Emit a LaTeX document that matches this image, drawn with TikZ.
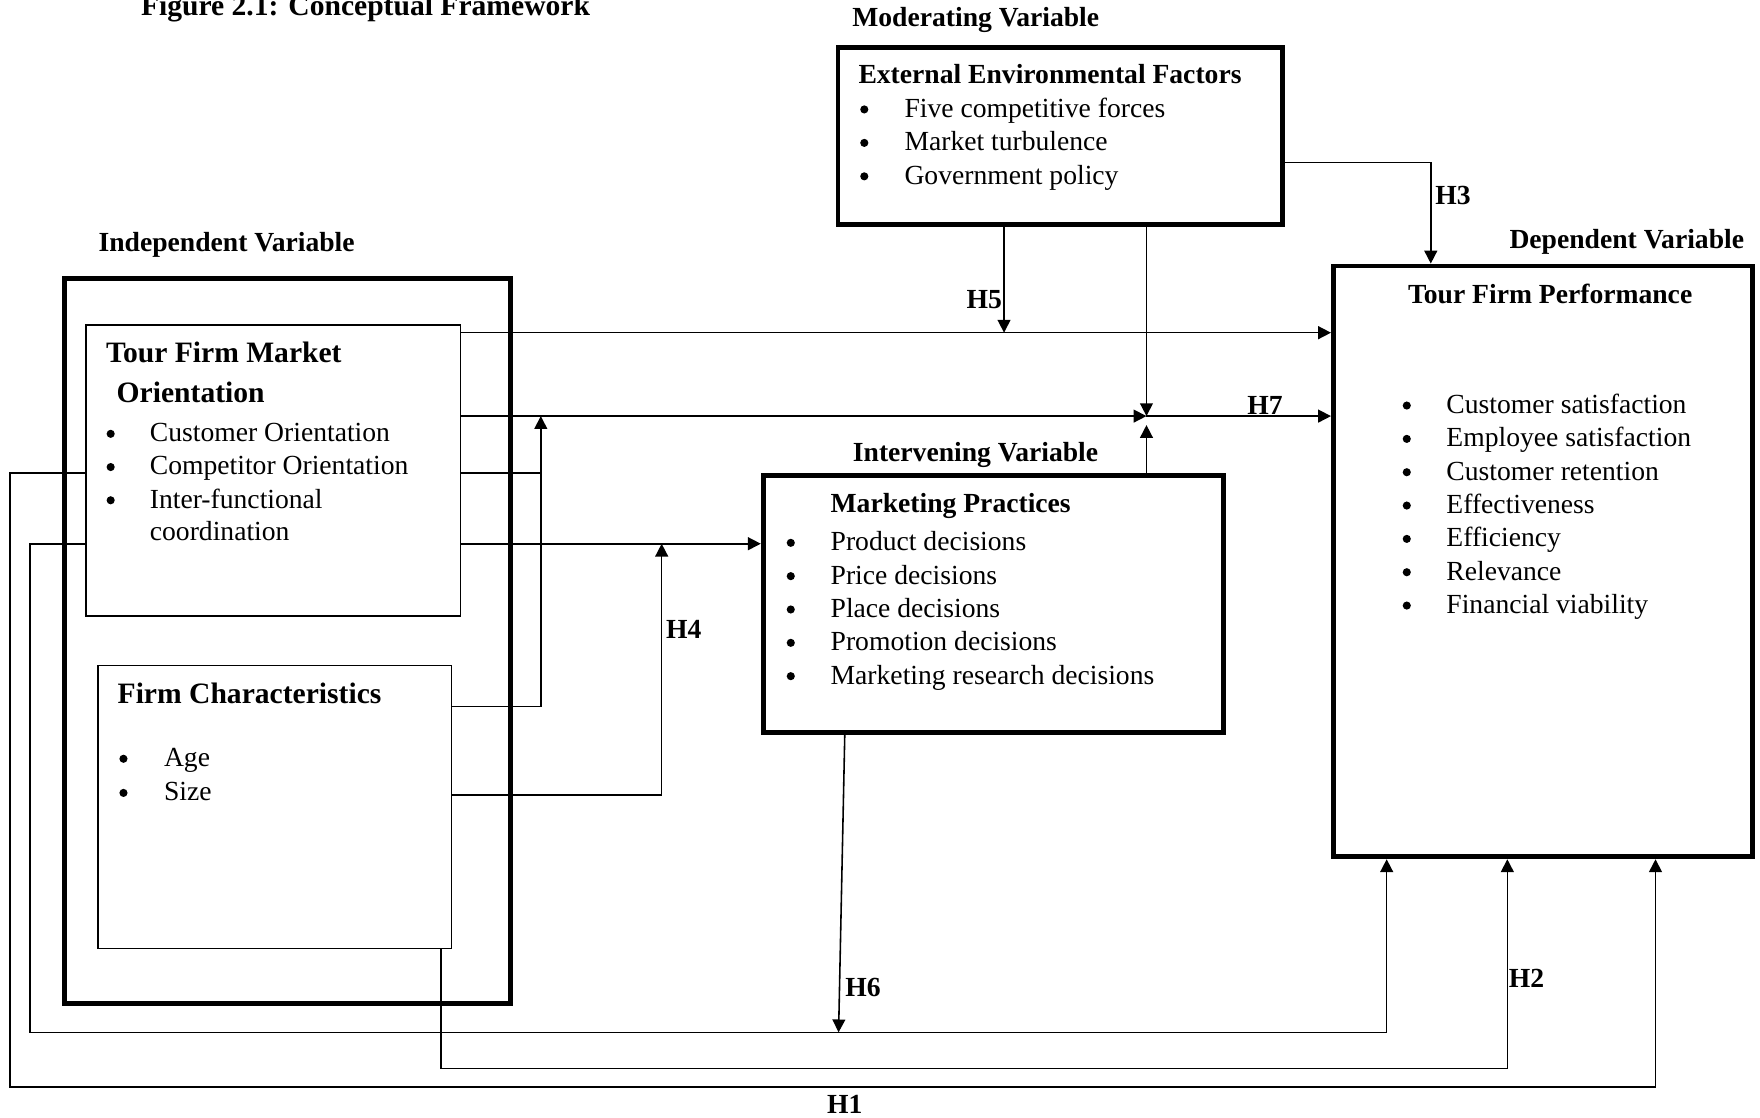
\documentclass[tikz,border=0pt]{standalone}
\usepackage{fontspec}
\setmainfont{Liberation Serif}
\usepackage{tikz}
\usetikzlibrary{positioning}
\usetikzlibrary{arrows.meta,fit,calc}
\tikzstyle{thickbox}=[draw,line width=2.5pt,inner sep=0pt]
\tikzstyle{thinbox}=[draw,line width=0.7pt,inner sep=0pt]
\tikzstyle{plainline}=[draw,line width=0.8pt]
\tikzstyle{edge}=[draw,line width=0.8pt,-{Triangle[length=6.5pt,width=6.5pt]}]
\tikzstyle{heading}=[font=\fontsize{14}{17}\selectfont\bfseries,anchor=base west,inner sep=0pt]
\tikzstyle{bigheading}=[font=\fontsize{15}{18}\selectfont\bfseries,anchor=base west,inner sep=0pt]
\tikzstyle{itemtext}=[font=\fontsize{14}{17}\selectfont,anchor=base west,inner sep=0pt]
\tikzstyle{dot}=[circle,fill=black,minimum size=1.45mm,inner sep=0pt]
\tikzstyle{hyp}=[font=\fontsize{14}{17}\selectfont\bfseries,anchor=base west,inner sep=0pt]

\begin{document}
\begin{tikzpicture}[x=0.2mm,y=-0.2mm]
 \useasboundingbox (0,0) rectangle (1568,996);

 %titles
 \node[bigheading] (title) at (125.3,13.4) {Figure 2.1: Conceptual Framework};
 \node[heading] (modlab) at (759,23.8) {Moderating Variable};
 \node[heading] (indlab) at (87.5,224.2) {Independent Variable};
 \node[heading] (intlab) at (759.5,411.3) {Intervening Variable};
 \node[heading] (deplab) at (1344.5,221.3) {Dependent Variable};

 %boxes
 \node[thickbox, fit={(746.6,42.2) (1142.6,199.6)}] (ext) {};
 \node[thickbox, fit={(57.3,247.8) (455,893.9)}] (iv) {};
 \node[thinbox, fit={(76.5,289.6) (410.5,548.8)}] (tfmo) {};
 \node[thinbox, fit={(87.3,593) (402.4,844.9)}] (fc) {};
 \node[thickbox, fit={(680,423.8) (1090,652.8)}] (mp) {};
 \node[thickbox, fit={(1188,237) (1561.5,763.3)}] (tfp) {};

 %External environmental factors
 \node[heading] (exthead) at (764.5,74.8) {External Environmental Factors};
 \foreach \txt [count=\i] in {Five competitive forces, Market turbulence, Government policy}
  {
   \node[dot] (extdot\i) at (770,97.5+29.8*\i-29.8) {};
   \node[itemtext] (extitem\i) at (805.5,104.5+29.8*\i-29.8) {\txt};
  }

 %Tour firm market orientation
 \node[bigheading] (tfmohead) at (94.1,323.1) {Tour Firm Market};
 \node[bigheading] (tfmohead2) at (103.6,358.8) {Orientation};
 \foreach \txt [count=\i] in {Customer Orientation, Competitor Orientation, Inter-functional}
  {
   \node[dot] (tfmodot\i) at (98.6,386.5+29.6*\i-29.6) {};
   \node[itemtext] (tfmoitem\i) at (133.2,393.5+29.6*\i-29.6) {\txt};
  }
 \node[itemtext] (tfmoitem4) at (133.2,481.7) {coordination};

 %Firm characteristics
 \node[bigheading] (fchead) at (104.5,626.6) {Firm Characteristics};
 \foreach \txt [count=\i] in {Age, Size}
  {
   \node[dot] (fcdot\i) at (110,676+30.4*\i-30.4) {};
   \node[itemtext] (fcitem\i) at (145.8,683+30.4*\i-30.4) {\txt};
  }

 %Marketing practices
 \node[heading] (mphead) at (739.7,456.8) {Marketing Practices};
 \foreach \txt [count=\i] in {Product decisions, Price decisions, Place decisions, Promotion decisions, Marketing research decisions}
  {
   \node[dot] (mpdot\i) at (704.5,483.6+29.7*\i-29.7) {};
   \node[itemtext] (mpitem\i) at (739.7,490.6+29.7*\i-29.7) {\txt};
  }

 %Tour firm performance
 \node[heading, anchor=base] (tfphead) at (1381,270.3) {Tour Firm Performance};
 \foreach \txt [count=\i] in {Customer satisfaction, Employee satisfaction, Customer retention, Effectiveness, Efficiency, Relevance, Financial viability}
  {
   \node[dot] (tfpdot\i) at (1253.3,361.3+29.7*\i-29.7) {};
   \node[itemtext] (tfpitem\i) at (1288.3,368.3+29.7*\i-29.7) {\txt};
  }

 %connectors
 \coordinate (h3) at (1274.7,144.6);
 \coordinate (h5) at (894.5,296.4);
 \coordinate (j7) at (1021.4,370.7);
 \coordinate (co) at (481.8,421.4);
 \coordinate (fc1) at (481.8,629.3);
 \coordinate (h4) at (589.5,484.4);
 \coordinate (fc2) at (589.5,708.3);
 \coordinate (h1a) at (8.7,421.4);
 \coordinate (h1b) at (1474.9,968.2);
 \coordinate (h6a) at (26.6,484.4);
 \coordinate (h6b) at (1235.4,919.7);
 \coordinate (h6t) at (752.6,652.8);
 \coordinate (h6c) at (747.1,919.7);
 \coordinate (h2a) at (392.8,951.8);
 \coordinate (h2b) at (1342.9,951.8);

 \path[edge] (ext.east |- h3) -- (h3) -- (tfp.north -| h3);
 \path[edge] (tfmo.east |- h5) -- (tfp.west |- h5);
 \path[edge] (ext.south -| h5) -- (h5);
 \path[edge] (tfmo.east |- j7) -- (j7);
 \path[edge] (j7) -- (tfp.west |- j7);
 \path[edge] (ext.south -| j7) -- (j7);
 \path[edge, shorten >=1.6mm] (mp.north -| j7) -- (j7);
 \path[plainline] (tfmo.east |- co) -- (co);
 \path[edge] (fc.east |- fc1) -- (fc1) -- (fc1 |- j7);
 \path[edge] (tfmo.east |- h4) -- (mp.west |- h4);
 \path[edge] (fc.east |- fc2) -- (fc2) -- (h4);
 \path[edge] (tfmo.west |- h1a) -- (h1a) |- (h1b) -- (tfp.south -| h1b);
 \path[edge] (tfmo.west |- h6a) -- (h6a) |- (h6b) -- (tfp.south -| h6b);
 \path[edge] (mp.south -| h6t) -- (h6c);
 \path[edge] (fc.south -| h2a) -- (h2a) -- (h2b) -- (tfp.south -| h2b);

 %hypothesis labels
 \node[hyp] (lh1) at (736.5,991.6) {H1};
 \node[hyp] (lh2) at (1344,879.6) {H2};
 \node[hyp] (lh3) at (1278.5,181.8) {H3};
 \node[hyp] (lh4) at (593.2,568.7) {H4};
 \node[hyp, anchor=base east] (lh5) at (893,274.5) {H5};
 \node[hyp] (lh6) at (752.8,888) {H6};
 \node[hyp] (lh7) at (1111,369) {H7};

\end{tikzpicture}
\end{document}
